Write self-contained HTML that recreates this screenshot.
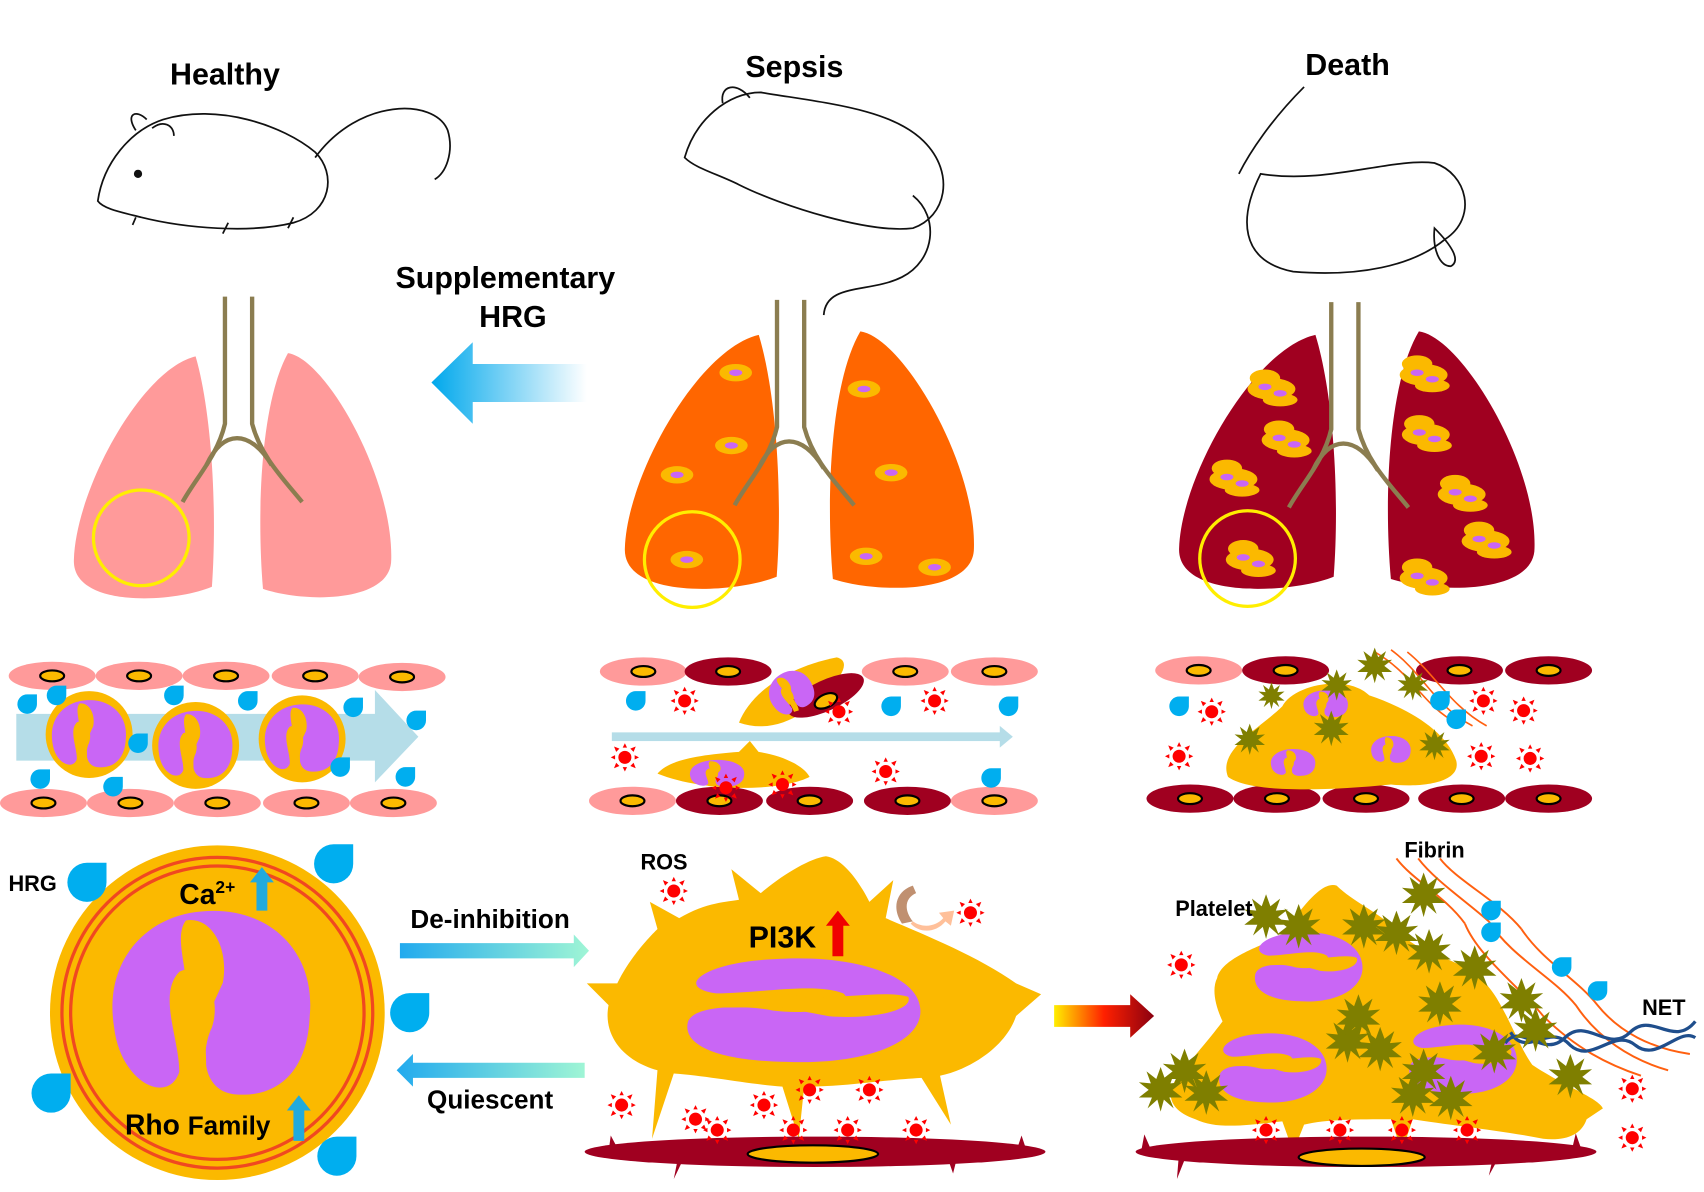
<!DOCTYPE html>
<html><head><meta charset="utf-8"><style>
html,body{margin:0;padding:0;background:#fff;}
svg{display:block;font-family:"Liberation Sans",Arial,sans-serif;font-weight:bold;}
</style></head><body>
<svg width="1704" height="1192" viewBox="0 0 1568 1097" preserveAspectRatio="none" xmlns="http://www.w3.org/2000/svg">
<defs>
<linearGradient id="gL" x1="1" x2="0" y1="0" y2="0"><stop offset="0" stop-color="#fff"/><stop offset="1" stop-color="#00a8ec"/></linearGradient>
<linearGradient id="gD" x1="0" x2="1"><stop offset="0" stop-color="#22aaee"/><stop offset="1" stop-color="#9ff5d5"/></linearGradient>
<linearGradient id="gQ" x1="1" x2="0"><stop offset="0" stop-color="#9ff5d5"/><stop offset="1" stop-color="#22aaee"/></linearGradient>
<linearGradient id="gR" x1="0" x2="1"><stop offset="0" stop-color="#ffee00"/><stop offset="0.5" stop-color="#ff2000"/><stop offset="1" stop-color="#8a0010"/></linearGradient>
<g id="ros"><circle r="6" fill="#f00"/><g fill="#f00"><polygon points="-2,-9 2,-9 0,-13"/><polygon points="-2,9 2,9 0,13"/><polygon points="-9,-2 -9,2 -13,0"/><polygon points="9,-2 9,2 13,0"/><polygon points="5,-8 8,-5 10,-10"/><polygon points="-5,-8 -8,-5 -10,-10"/><polygon points="5,8 8,5 10,10"/><polygon points="-5,8 -8,5 -10,10"/></g></g>
<path id="drop" d="M0,-9 L9,-9 L9,0 A9,9 0 1 1 0,-9Z" fill="#00aeef"/>
<polygon id="plt" fill="#7f7f00" points="0,-20 4,-9 13,-16 9,-5 20,-6 11,1 20,8 8,8 12,18 3,10 0,21 -3,10 -12,18 -8,8 -20,8 -11,1 -20,-6 -9,-5 -13,-16 -4,-9"/>
<g id="nuc"><path d="M-45,10 C-50,-20 -30,-40 -5,-42 C25,-45 48,-25 45,5 C44,30 30,42 10,40 C-5,38 -5,20 0,10 C5,-5 -5,-20 -15,-15 C-25,-5 -15,15 -15,30 C-20,45 -42,35 -45,10Z" fill="#c966f5"/><path d="M-12,-38 C0,-40 8,-25 5,-10 L-2,5 C-5,15 0,30 -5,40 L-15,38 C-12,20 -18,10 -12,0 C-10,-15 -18,-30 -12,-38Z" fill="#fbb900"/></g>
<g id="lung"><path d="M180,328 C130,340 70,450 68,515 C66,560 160,555 195,540 C200,470 195,380 180,328Z"/><path d="M265,325 C300,330 362,440 360,515 C360,555 280,555 242,542 C236,470 240,370 265,325Z"/></g>
<g id="trach" fill="none" stroke="#8b7d50" stroke-width="4"><path d="M207,273 L207,390 C200,420 180,440 168,462"/><path d="M232,273 L232,390 C240,420 260,440 278,462"/><path d="M190,428 C205,395 230,395 250,428"/></g>
<g id="ycell"><ellipse rx="15" ry="8" fill="#fbb900"/><ellipse rx="6" ry="3" fill="#c966f5"/></g>
<g id="ycl"><ellipse cx="0" cy="0" rx="22" ry="10" fill="#fbb900"/><ellipse cx="-6" cy="-10" rx="14" ry="8" fill="#fbb900"/><ellipse cx="8" cy="10" rx="16" ry="6" fill="#fbb900"/><ellipse cx="-6" cy="-2" rx="6" ry="3" fill="#c966f5"/><ellipse cx="8" cy="4" rx="6" ry="3" fill="#c966f5"/></g>
<g id="pk"><ellipse rx="40" ry="13" fill="#ff9a9a"/><ellipse rx="11" ry="5" fill="#fbb900" stroke="#000" stroke-width="2"/></g>
<g id="dk"><ellipse rx="40" ry="13" fill="#a00020"/><ellipse rx="11" ry="5" fill="#fbb900" stroke="#000" stroke-width="2"/></g>
</defs>

<!-- titles -->
<g font-size="28" text-anchor="middle" fill="#000">
<text x="207" y="78">Healthy</text><text x="731" y="71">Sepsis</text><text x="1240" y="69">Death</text>
<text x="465" y="265">Supplementary</text><text x="472" y="301">HRG</text>
</g>
<!-- mice sketches -->
<g fill="none" stroke="#111" stroke-width="1.6">
<path d="M90,185 C95,150 120,120 150,110 C200,95 260,115 290,140 C310,160 305,195 270,205 C230,215 170,210 130,200 C110,195 95,192 90,185Z"/>
<path d="M290,145 C330,90 400,90 412,120 C418,140 410,160 400,165"/>
<path d="M125,120 C115,105 125,100 135,110 M140,118 C150,110 160,115 160,125"/><circle cx="127" cy="160" r="3" fill="#111"/>
<path d="M125,200 L122,207 M210,205 L205,215 M270,200 L265,210"/>
<path d="M630,145 C640,110 670,85 700,85 C760,95 820,100 850,130 C880,160 870,200 840,210 C800,215 720,190 680,170 C660,160 640,155 630,145Z"/>
<path d="M840,180 C865,200 860,240 830,255 C800,270 760,260 758,290"/>
<path d="M665,95 C662,78 678,75 690,90"/>
<path d="M1140,160 C1150,140 1170,110 1200,80 M1160,160 C1140,200 1140,240 1190,250 C1250,255 1300,245 1330,220 C1360,200 1350,160 1320,150 C1280,145 1220,170 1160,160Z"/>
<path d="M1320,210 C1335,225 1345,240 1335,245 C1325,245 1318,230 1320,210Z"/>
</g>
<!-- left arrow -->
<path d="M540,335 L435,335 L435,315 L397,352 L435,390 L435,370 L540,370Z" fill="url(#gL)"/>
<!-- lungs -->
<use href="#lung" fill="#ff9a9a"/><use href="#trach"/>
<circle cx="130" cy="495" r="44" fill="none" stroke="#ffee00" stroke-width="3"/>
<g transform="translate(575,305) scale(1.1,1.05) translate(-68,-325)"><use href="#lung" fill="#ff6600"/></g>
<g transform="translate(508,3)"><use href="#trach"/></g>
<circle cx="637" cy="515" r="44" fill="none" stroke="#ffee00" stroke-width="3"/>
<use href="#ycell" x="677" y="343"/><use href="#ycell" x="673" y="410"/><use href="#ycell" x="623" y="437"/><use href="#ycell" x="632" y="515"/><use href="#ycell" x="795" y="358"/><use href="#ycell" x="820" y="435"/><use href="#ycell" x="797" y="512"/><use href="#ycell" x="860" y="522"/>
<g transform="translate(1085,305) scale(1.12,1.05) translate(-68,-325)"><use href="#lung" fill="#a00020"/></g>
<g transform="translate(1018,5)"><use href="#trach"/></g>
<circle cx="1148" cy="514" r="44" fill="none" stroke="#ffee00" stroke-width="3"/>
<use href="#ycl" x="1170" y="358"/><use href="#ycl" x="1183" y="405"/><use href="#ycl" x="1135" y="441"/><use href="#ycl" x="1150" y="515"/><use href="#ycl" x="1310" y="345"/><use href="#ycl" x="1312" y="400"/><use href="#ycl" x="1345" y="455"/><use href="#ycl" x="1367" y="498"/><use href="#ycl" x="1310" y="532"/>
<!-- healthy vessel -->
<use href="#pk" x="48" y="622"/><use href="#pk" x="128" y="622"/><use href="#pk" x="208" y="622"/><use href="#pk" x="290" y="622"/><use href="#pk" x="370" y="623"/>
<use href="#pk" x="40" y="739"/><use href="#pk" x="120" y="739"/><use href="#pk" x="200" y="739"/><use href="#pk" x="282" y="739"/><use href="#pk" x="362" y="739"/>
<path d="M15,657 L345,657 L345,635 L385,678 L345,720 L345,700 L15,700Z" fill="#b5dde8"/>
<circle cx="82" cy="676" r="40" fill="#fbb900"/><use href="#nuc" transform="translate(82,676) scale(0.75)"/>
<circle cx="180" cy="686" r="40" fill="#fbb900"/><use href="#nuc" transform="translate(180,686) scale(0.75)"/>
<circle cx="278" cy="680" r="40" fill="#fbb900"/><use href="#nuc" transform="translate(278,680) scale(0.75)"/>
<use href="#drop" x="25" y="648"/><use href="#drop" x="52" y="640"/><use href="#drop" x="160" y="640"/><use href="#drop" x="228" y="645"/><use href="#drop" x="325" y="651"/><use href="#drop" x="383" y="663"/><use href="#drop" x="127" y="684"/><use href="#drop" x="313" y="706"/><use href="#drop" x="37" y="717"/><use href="#drop" x="104" y="724"/><use href="#drop" x="373" y="715"/>
<!-- sepsis vessel -->
<use href="#pk" x="592" y="618"/><use href="#dk" x="670" y="618"/><use href="#pk" x="833" y="618"/><use href="#pk" x="915" y="618"/>
<use href="#pk" x="582" y="737"/><use href="#dk" x="662" y="737"/><use href="#dk" x="745" y="737"/><use href="#dk" x="835" y="737"/><use href="#pk" x="915" y="737"/>
<rect x="563" y="674" width="360" height="8" fill="#b5dde8"/><polygon points="920,668 932,678 920,688" fill="#b5dde8"/>
<path d="M680,665 C690,640 720,615 770,605 C790,610 760,640 740,655 C720,668 700,672 680,665Z" fill="#fbb900"/>
<ellipse cx="760" cy="640" rx="38" ry="14" fill="#a00020" transform="rotate(-25 760 640)"/><ellipse cx="760" cy="645" rx="11" ry="6" fill="#fbb900" stroke="#000" stroke-width="2" transform="rotate(-25 760 645)"/>
<use href="#nuc" transform="translate(728,637) scale(0.45) rotate(-30)"/>
<path d="M605,712 C615,700 640,695 680,692 L690,682 L698,692 C720,695 740,705 745,715 C720,728 650,730 605,712Z" fill="#fbb900"/>
<use href="#nuc" transform="translate(660,712) scale(0.55,0.3)"/>
<use href="#ros" x="630" y="645"/><use href="#ros" x="772" y="655"/><use href="#ros" x="860" y="645"/><use href="#ros" x="575" y="697"/><use href="#ros" x="815" y="710"/><use href="#ros" x="668" y="725"/><use href="#ros" x="720" y="722"/>
<use href="#drop" x="585" y="645"/><use href="#drop" x="820" y="650"/><use href="#drop" x="928" y="650"/><use href="#drop" x="912" y="716"/>
<!-- death vessel -->
<use href="#pk" x="1103" y="617"/><use href="#dk" x="1183" y="617"/><use href="#dk" x="1343" y="617"/><use href="#dk" x="1425" y="617"/>
<use href="#dk" x="1095" y="735"/><use href="#dk" x="1175" y="735"/><use href="#dk" x="1257" y="735"/><use href="#dk" x="1345" y="735"/><use href="#dk" x="1425" y="735"/>
<path d="M1130,715 C1120,690 1160,670 1180,650 C1190,630 1240,620 1260,640 C1290,650 1330,670 1340,700 C1345,720 1310,725 1280,722 C1220,728 1150,730 1130,715Z" fill="#fbb900"/>
<use href="#nuc" transform="translate(1220,648) scale(0.45,0.3)"/><use href="#nuc" transform="translate(1190,702) scale(0.45,0.3)"/><use href="#nuc" transform="translate(1280,690) scale(0.4,0.3)"/>
<g fill="none" stroke="#ff6010" stroke-width="1.5"><path d="M1265,600 C1300,620 1310,650 1340,665"/><path d="M1280,598 C1310,620 1320,650 1355,668"/><path d="M1295,600 C1320,620 1335,650 1368,668"/></g>
<use href="#plt" transform="translate(1265,612) scale(0.8)"/><use href="#plt" transform="translate(1230,630) scale(0.7)"/><use href="#plt" transform="translate(1170,640) scale(0.6)"/><use href="#plt" transform="translate(1300,630) scale(0.7)"/><use href="#plt" transform="translate(1150,680) scale(0.7)"/><use href="#plt" transform="translate(1225,670) scale(0.8)"/><use href="#plt" transform="translate(1320,685) scale(0.7)"/>
<use href="#ros" x="1115" y="655"/><use href="#ros" x="1085" y="696"/><use href="#ros" x="1365" y="645"/><use href="#ros" x="1402" y="654"/><use href="#ros" x="1363" y="696"/><use href="#ros" x="1408" y="698"/>
<use href="#drop" x="1085" y="650"/><use href="#drop" x="1325" y="645"/><use href="#drop" x="1340" y="662"/>
<!-- big neutrophil -->
<circle cx="200" cy="932" r="154" fill="#fbb900"/>
<circle cx="200" cy="932" r="143" fill="none" stroke="#f04820" stroke-width="3"/>
<circle cx="200" cy="932" r="135" fill="none" stroke="#f04820" stroke-width="3"/>
<use href="#nuc" transform="translate(195,925) scale(2.0,2.05)"/>
<text x="30" y="820" font-size="20" text-anchor="middle">HRG</text>
<text x="165" y="832" font-size="26">Ca<tspan font-size="16" dy="-10">2+</tspan></text>
<path d="M236,838 L236,812 L230,812 L241,798 L252,812 L246,812 L246,838Z" fill="#22aadd"/>
<text x="115" y="1044" font-size="26">Rho <tspan font-size="24">Family</tspan></text>
<path d="M270,1050 L270,1022 L264,1022 L275,1008 L286,1022 L280,1022 L280,1050Z" fill="#22aadd"/>
<use href="#drop" transform="translate(80,812) scale(2)"/><use href="#drop" transform="translate(307,795) scale(2)"/><use href="#drop" transform="translate(377,932) scale(2)"/><use href="#drop" transform="translate(47,1006) scale(2)"/><use href="#drop" transform="translate(310,1064) scale(2)"/>
<!-- arrows middle -->
<text x="451" y="854" font-size="24" text-anchor="middle">De-inhibition</text>
<path d="M368,868 L528,868 L528,860 L542,875 L528,890 L528,882 L368,882Z" fill="url(#gD)"/>
<path d="M538,978 L380,978 L380,970 L365,985 L380,1000 L380,992 L538,992Z" fill="url(#gQ)"/>
<text x="451" y="1020" font-size="24" text-anchor="middle">Quiescent</text>
<!-- sepsis big cell -->
<path d="M540,905 L568,905 C580,880 600,860 605,855 L598,830 L625,845 C650,830 670,830 680,828 L673,800 L700,822 C720,805 745,790 760,788 C775,790 790,810 800,830 L822,810 L815,845 C850,860 900,880 935,905 L958,915 L935,935 C925,965 890,985 865,990 L875,1035 L848,992 C800,995 780,1000 740,1000 L735,1048 L720,1000 C690,998 650,990 620,988 L600,1048 L605,985 C570,975 555,950 560,925 Z" fill="#fbb900"/>
<use href="#nuc" transform="translate(737,930) scale(2.6,1.05) rotate(90) scale(1,1)" />
<ellipse cx="750" cy="1060" rx="212" ry="14" fill="#a00020"/>
<path d="M625,1060 L620,1085 L632,1060Z M870,1060 L877,1080 L882,1060Z M560,1060 L562,1045 L570,1060Z M935,1060 L940,1045 L945,1060Z" fill="#a00020"/>
<ellipse cx="748" cy="1062" rx="60" ry="8" fill="#fbb900" stroke="#000" stroke-width="2"/>
<text x="720" y="872" font-size="28" text-anchor="middle">PI3K</text>
<path d="M766,880 L766,852 L760,852 L771,838 L782,852 L776,852 L776,880Z" fill="#f00000"/>
<text x="611" y="800" font-size="20" text-anchor="middle">ROS</text>
<path d="M830,850 C820,835 825,820 840,815 L843,822 C832,827 832,838 840,848Z" fill="#c09070"/>
<path d="M840,848 C850,855 862,852 868,845 L864,840 L878,838 L875,852 L870,848 C860,860 845,858 838,850Z" fill="#ffc09a"/>
<use href="#ros" x="620" y="820"/><use href="#ros" x="893" y="840"/><use href="#ros" x="572" y="1017"/><use href="#ros" x="660" y="1040"/><use href="#ros" x="703" y="1017"/><use href="#ros" x="730" y="1040"/><use href="#ros" x="745" y="1003"/><use href="#ros" x="780" y="1040"/><use href="#ros" x="800" y="1003"/><use href="#ros" x="843" y="1040"/><use href="#ros" x="640" y="1030"/>
<!-- gradient arrow -->
<path d="M970,925 L1040,925 L1040,915 L1062,935 L1040,955 L1040,945 L970,945Z" fill="url(#gR)"/>
<!-- death big cluster -->
<path d="M1120,900 C1125,880 1165,870 1180,860 C1195,840 1215,810 1230,815 C1245,830 1270,840 1290,860 C1310,880 1340,880 1360,900 C1380,910 1395,960 1410,980 C1440,1000 1470,1010 1475,1020 L1460,1030 C1455,1045 1440,1050 1420,1048 C1380,1040 1330,1035 1300,1030 L1290,1060 L1280,1030 C1250,1030 1220,1030 1200,1035 L1190,1060 L1180,1032 C1150,1035 1120,1040 1100,1030 C1070,1020 1075,1000 1085,990 C1100,970 1110,960 1125,940 C1118,925 1115,910 1120,900Z" fill="#fbb900"/>
<use href="#nuc" transform="translate(1203,890) scale(1.2,0.7) rotate(90)"/>
<use href="#nuc" transform="translate(1170,983) scale(1.2,0.7) rotate(90)"/>
<use href="#nuc" transform="translate(1345,975) scale(1.2,0.7) rotate(90)"/>
<g fill="none" stroke="#ff6010" stroke-width="1.8"><path d="M1348,850 C1360,880 1400,910 1420,935 C1450,965 1480,980 1510,990"/><path d="M1370,848 C1390,880 1430,900 1450,925 C1470,955 1500,975 1535,985"/><path d="M1400,855 C1420,885 1450,900 1470,925 C1490,950 1520,965 1555,970"/><path d="M1285,790 C1300,810 1330,825 1348,850 M1305,790 C1320,810 1350,830 1370,848 M1325,790 C1340,810 1380,830 1400,855"/></g>
<use href="#drop" x="1372" y="838"/><use href="#drop" x="1372" y="858"/><use href="#drop" x="1437" y="890"/><use href="#drop" x="1470" y="912"/>
<g fill="none" stroke="#1f4e8c" stroke-width="3"><path d="M1385,960 C1400,940 1420,975 1440,955 C1460,935 1480,970 1500,950 C1520,930 1540,965 1560,940"/><path d="M1390,950 C1405,975 1425,940 1445,962 C1465,980 1485,945 1505,962 C1525,978 1545,945 1560,955"/></g>
<use href="#plt" x="1165" y="843"/><use href="#plt" x="1195" y="852"/><use href="#plt" x="1255" y="852"/><use href="#plt" x="1310" y="823"/><use href="#plt" x="1315" y="875"/><use href="#plt" x="1285" y="858"/><use href="#plt" x="1357" y="890"/><use href="#plt" x="1400" y="920"/><use href="#plt" x="1413" y="947"/><use href="#plt" x="1325" y="923"/><use href="#plt" x="1375" y="967"/><use href="#plt" x="1240" y="957"/><use href="#plt" x="1250" y="935"/><use href="#plt" x="1270" y="965"/><use href="#plt" x="1090" y="985"/><use href="#plt" x="1068" y="1002"/><use href="#plt" x="1110" y="1005"/><use href="#plt" x="1310" y="985"/><use href="#plt" x="1300" y="1007"/><use href="#plt" x="1335" y="1010"/><use href="#plt" x="1445" y="990"/>
<ellipse cx="1257" cy="1060" rx="212" ry="14" fill="#a00020"/>
<path d="M1085,1060 L1083,1085 L1093,1060Z M1375,1060 L1370,1082 L1382,1060Z M1050,1060 L1053,1044 L1060,1060Z M1446,1060 L1450,1043 L1456,1060Z" fill="#a00020"/>
<ellipse cx="1253" cy="1065" rx="58" ry="8" fill="#fbb900" stroke="#000" stroke-width="2"/>
<use href="#ros" x="1087" y="888"/><use href="#ros" x="1165" y="1040"/><use href="#ros" x="1233" y="1040"/><use href="#ros" x="1290" y="1040"/><use href="#ros" x="1350" y="1040"/><use href="#ros" x="1502" y="1002"/><use href="#ros" x="1502" y="1047"/>
<text x="1117" y="843" font-size="20" text-anchor="middle">Platelet</text>
<text x="1320" y="789" font-size="20" text-anchor="middle">Fibrin</text>
<text x="1531" y="934" font-size="20" text-anchor="middle">NET</text>
</svg>
</body></html>
